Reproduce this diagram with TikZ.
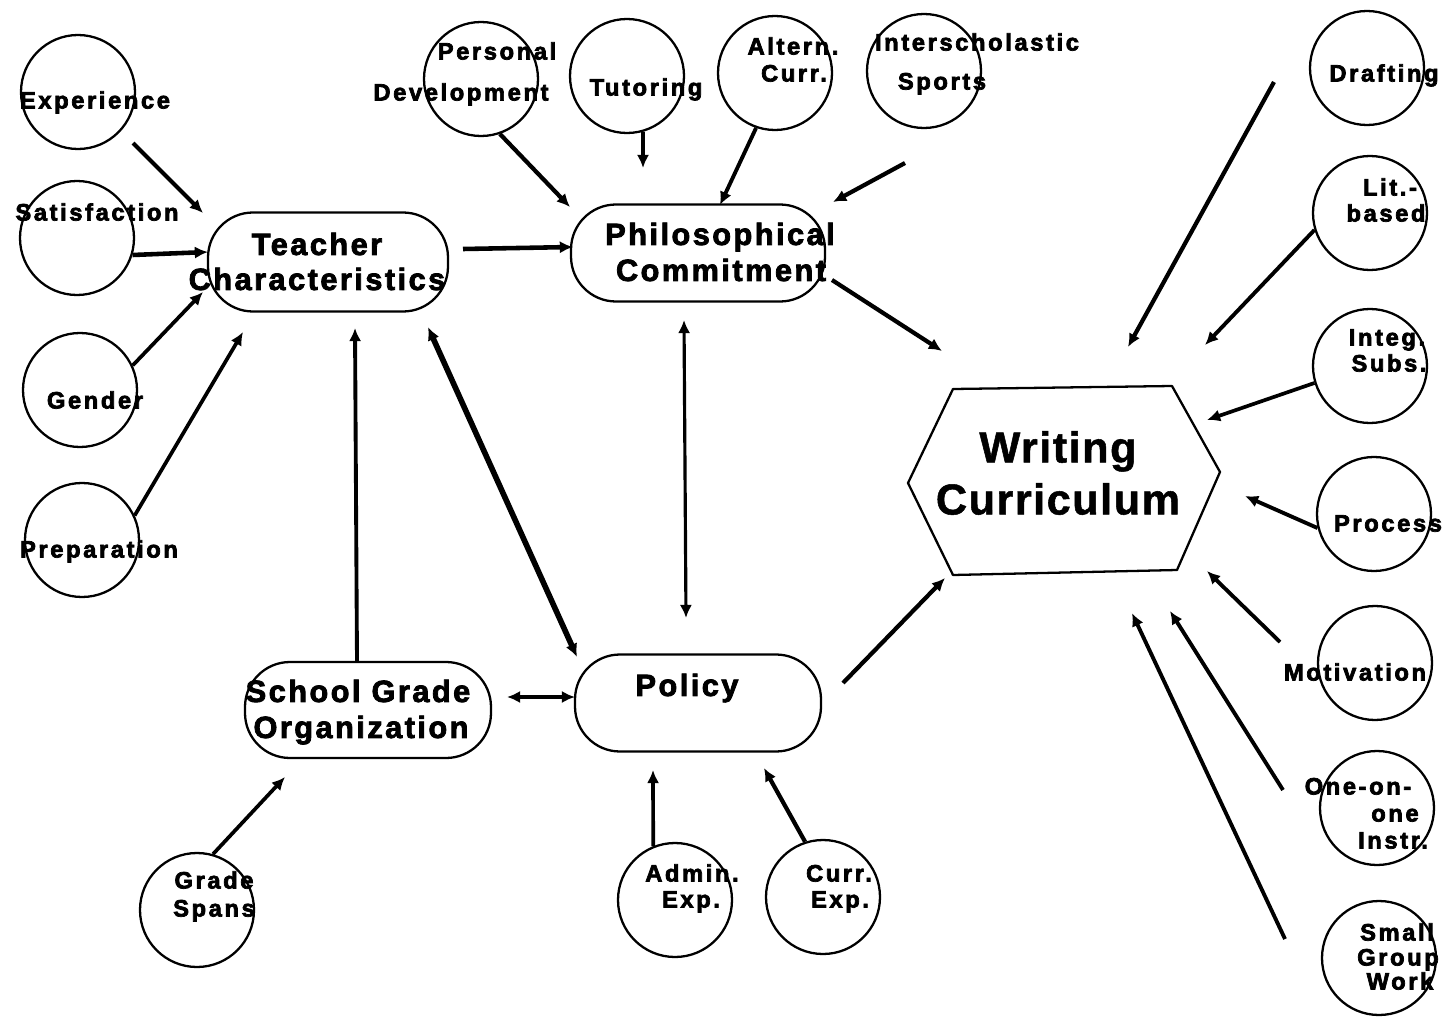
\documentclass[tikz,border=0pt]{standalone}
\usepackage{fontspec}
\setmainfont{Liberation Sans}
\newfontfamily\lblfont{Liberation Sans}[UprightFont={* Bold}, LetterSpace=11, FakeBold=3]
\newfontfamily\hubfont{Liberation Sans}[UprightFont={* Bold}, LetterSpace=8, FakeBold=2.6]
\newfontfamily\wcfont{Liberation Sans}[UprightFont={* Bold}, LetterSpace=3.5, FakeBold=1.2]
\usetikzlibrary{arrows.meta}
\newcommand{\pxl}{0.02cm}

\begin{document}
\begin{tikzpicture}[x=0.02cm, y=-0.02cm,
  bub/.style={draw, circle, line width=1.3pt, minimum size=114*\pxl, inner sep=0pt},
  hub/.style={draw, line width=1.3pt, rounded corners=45*\pxl, inner sep=0pt},
  lbl/.style={inner sep=0pt, font=\lblfont\fontsize{13.5}{16}\selectfont,
              text height=9.7pt, text depth=0pt},
  hubtxt/.style={inner sep=0pt, font=\hubfont\fontsize{17.5}{20}\selectfont,
              text height=12.5pt, text depth=0pt},
  wctxt/.style={inner sep=0pt, font=\wcfont\fontsize{24.6}{28}\selectfont,
              text height=17.6pt, text depth=0pt},
  arr/.style={line width=#1, -{Latex[length=7.5pt,width=7pt]}},
  arr/.default=2.4pt,
  biarr/.style={line width=#1, {Latex[length=7.5pt,width=7pt]}-{Latex[length=7.5pt,width=7pt]}},
  biarr/.default=2.4pt]

\useasboundingbox (0,0) rectangle (1454,1017);

% ---------- main concepts ----------
\node[hub, minimum width=240*\pxl, minimum height=99*\pxl] (tc)   at (328,262) {};
\node[hub, minimum width=254*\pxl, minimum height=97*\pxl] (phil) at (698,253) {};
\node[hub, minimum width=246*\pxl, minimum height=96*\pxl] (sgo)  at (368,710) {};
\node[hub, minimum width=246*\pxl, minimum height=97*\pxl] (pol)  at (698,703) {};

\node[hubtxt] (tcA)   at (317,244) {Teacher};
\node[hubtxt] (tcB)   at (317,279) {Characteristics};
\node[hubtxt] (philA) at (720,234) {Philosophical};
\node[hubtxt] (philB) at (721,270) {Commitment};
\node[hubtxt] (sgoA)  at (358,691) {School Grade};
\node[hubtxt] (sgoB)  at (361,727) {Organization};
\node[hubtxt] (polA)  at (687,685) {Policy};

% writing curriculum hexagon
\coordinate (wcL)  at (908,483);
\coordinate (wcTL) at (953,389);
\coordinate (wcTR) at (1172,386);
\coordinate (wcR)  at (1220,472);
\coordinate (wcBR) at (1177,570);
\coordinate (wcBL) at (953,575);
\draw[line width=1.3pt, line join=round] (wcL) -- (wcTL) -- (wcTR) -- (wcR) -- (wcBR) -- (wcBL) -- cycle;
\node[wctxt] (wcA) at (1058,447) {Writing};
\node[wctxt] (wcB) at (1058,499) {Curriculum};

% ---------- factor circles ----------
\node[bub] (exp)   at (78,92)    {};
\node[bub] (sat)   at (77,238)   {};
\node[bub] (gen)   at (80,390)   {};
\node[bub] (prep)  at (82,540)   {};
\node[bub] (pers)  at (481,79)   {};
\node[bub] (tut)   at (627,76)   {};
\node[bub] (alt)   at (775,73)   {};
\node[bub] (isp)   at (924,71)   {};
\node[bub] (draft) at (1367,68)  {};
\node[bub] (lit)   at (1370,213) {};
\node[bub] (integ) at (1370,366) {};
\node[bub] (proc)  at (1374,514) {};
\node[bub] (motiv) at (1375,663) {};
\node[bub] (one)   at (1377,808) {};
\node[bub] (small) at (1379,958) {};
\node[bub] (grade) at (197,910)  {};
\node[bub] (admin) at (675,900)  {};
\node[bub] (cexp)  at (823,897)  {};

% labels (set slightly off the circles, as printed)
\node[lbl] (expL)    at (95,100)   {Experience};
\node[lbl] (satL)    at (97,212)   {Satisfaction};
\node[lbl] (genL)    at (95,400)   {Gender};
\node[lbl] (prepL)   at (99,549)   {Preparation};
\node[lbl] (persL)   at (497,51)   {Personal};
\node[lbl] (persL2)  at (461,92)   {Development};
\node[lbl] (tutL)    at (646,87)   {Tutoring};
\node[lbl] (altL)    at (793,46)   {Altern.};
\node[lbl] (altL2)   at (794,73)   {Curr.};
\node[lbl] (ispL)    at (977,42)   {Interscholastic};
\node[lbl] (ispL2)   at (942,81)   {Sports};
\node[lbl] (draftL)  at (1384,73)  {Drafting};
\node[lbl] (litL)    at (1390,187) {Lit.-};
\node[lbl] (litL2)   at (1386,213) {based};
\node[lbl] (integL)  at (1387,337) {Integ.};
\node[lbl] (integL2) at (1389,363) {Subs.};
\node[lbl] (procL)   at (1388,523) {Process};
\node[lbl] (motivL)  at (1355,672) {Motivation};
\node[lbl] (oneL)    at (1358,786) {One-on-};
\node[lbl] (oneL2)   at (1395,813) {one};
\node[lbl] (oneL3)   at (1393,840) {Instr.};
\node[lbl] (smallL)  at (1397,932) {Small};
\node[lbl] (smallL2) at (1398,957) {Group};
\node[lbl] (smallL3) at (1400,981) {Work};
\node[lbl] (gradeL)  at (214,880)  {Grade};
\node[lbl] (gradeL2) at (214,908)  {Spans};
\node[lbl] (adminL)  at (692,873)  {Admin.};
\node[lbl] (adminL2) at (691,899)  {Exp.};
\node[lbl] (cexpL)   at (839,873)  {Curr.};
\node[lbl] (cexpL2)  at (840,899)  {Exp.};

% ---------- free ends of the connectors ----------
\coordinate (expT)   at (133,143);  \coordinate (expH)   at (203,213);
\coordinate (satH)   at (208,252);
\coordinate (genH)   at (203,292);
\coordinate (prepH)  at (243,332);
\coordinate (tcT)    at (463,249);  \coordinate (tcH)    at (573,247);
\coordinate (persH)  at (570,207);
\coordinate (tutH)   at (643,168);
\coordinate (altH)   at (720,205);
\coordinate (ispT)   at (905,163);  \coordinate (ispH)   at (833,202);
\coordinate (philT)  at (832,280);  \coordinate (philH)  at (942,351);
\coordinate (draftT) at (1274,82);  \coordinate (draftH) at (1128,347);
\coordinate (litH)   at (1205,345);
\coordinate (integH) at (1207,420);
\coordinate (procH)  at (1245,496);
\coordinate (motivT) at (1280,642); \coordinate (motivH) at (1207,571);
\coordinate (oneT)   at (1283,790); \coordinate (oneH)   at (1170,611);
\coordinate (smallT) at (1285,939); \coordinate (smallH) at (1132,613);
\coordinate (polT)   at (843,683);  \coordinate (polH)   at (945,578);
\coordinate (ppA)    at (684,320);  \coordinate (ppB)    at (686,618);
\coordinate (tpA)    at (428,327);  \coordinate (tpB)    at (577,657);
\coordinate (sgoT)   at (357,662);  \coordinate (sgoH)   at (355,328);
\coordinate (spA)    at (507,697);  \coordinate (spB)    at (575,697);
\coordinate (gradeH) at (285,777);
\coordinate (adminH) at (653,770);
\coordinate (cexpH)  at (764,768);

% ---------- connectors ----------
% into teacher characteristics
\draw[arr]        (expT) -- (expH);
\draw[arr=2.6pt]  (sat.-17) -- (satH);
\draw[arr=2.1pt]  (gen.25) -- (genH);
\draw[arr=2.1pt]  (prep.25) -- (prepH);
\draw[arr=2.2pt]  (sgoT) -- (sgoH);
% into philosophical commitment
\draw[arr=2.6pt]  (tcT) -- (tcH);
\draw[arr]        (pers.-71) -- (persH);
\draw[arr=2.2pt]  (tut.-74) -- (tutH);
\draw[arr=2.2pt]  (alt.-109) -- (altH);
\draw[arr]        (ispT) -- (ispH);
% into policy
\draw[arr=2.1pt]  (admin.112) -- (adminH);
\draw[arr=2.4pt]  (cexp.108) -- (cexpH);
% two-way links
\draw[biarr=1.8pt] (ppA) -- (ppB);
\draw[biarr=3.2pt] (tpA) -- (tpB);
\draw[biarr=2.2pt] (spA) -- (spB);
% into school grade organization
\draw[arr=2.1pt]  (grade.74) -- (gradeH);
% into writing curriculum
\draw[arr]        (philT) -- (philH);
\draw[arr]        (polT) -- (polH);
\draw[arr=2.4pt]  (draftT) -- (draftH);
\draw[arr=2.2pt]  (lit.197) -- (litH);
\draw[arr=2.1pt]  (integ.197) -- (integH);
\draw[arr=2.2pt]  (proc.194) -- (procH);
\draw[arr=2.2pt]  (motivT) -- (motivH);
\draw[arr=2.2pt]  (oneT) -- (oneH);
\draw[arr=2.2pt]  (smallT) -- (smallH);
\end{tikzpicture}
\end{document}
